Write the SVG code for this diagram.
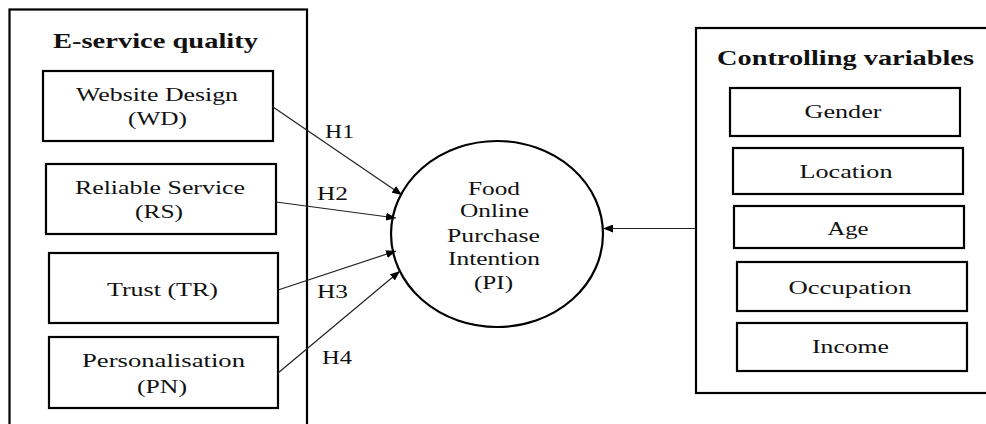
<svg xmlns="http://www.w3.org/2000/svg" width="986" height="424" viewBox="0 0 986 424">
<defs>
<marker id="arr" viewBox="0 0 10 8" refX="10" refY="4" markerWidth="10" markerHeight="8" markerUnits="userSpaceOnUse" orient="auto">
<path d="M0,0 L10,4 L0,8 Z" fill="#000"/>
</marker>
</defs>
<style>
.outer{fill:none;stroke:#000;stroke-width:2.2}
.box{fill:#fff;stroke:#000;stroke-width:2.2}
.t{font-family:"Liberation Serif","Times New Roman",serif;font-size:18px;fill:#111;text-anchor:middle}
.title{font-family:"Liberation Serif","Times New Roman",serif;font-size:22px;font-weight:bold;fill:#111;text-anchor:middle}
.h{font-family:"Liberation Serif","Times New Roman",serif;font-size:18px;fill:#111}
.c{fill:none;stroke:#222;stroke-width:1.2}
</style>
<rect width="986" height="424" fill="#fff"/>

<g id="eservice">
<rect class="outer" x="9.5" y="9.5" width="297.5" height="430"/>
<text class="title" x="155.5" y="48" textLength="205" lengthAdjust="spacingAndGlyphs">E-service quality</text>
</g>

<g id="wd">
<rect class="box" x="43" y="71" width="230" height="70"/>
<text class="t" x="157" y="101" textLength="162" lengthAdjust="spacingAndGlyphs">Website Design</text>
<text class="t" x="157.5" y="125" textLength="59" lengthAdjust="spacingAndGlyphs">(WD)</text>
</g>

<g id="rs">
<rect class="box" x="46" y="164" width="230" height="70"/>
<text class="t" x="160" y="194" textLength="170" lengthAdjust="spacingAndGlyphs">Reliable Service</text>
<text class="t" x="159" y="218" textLength="48" lengthAdjust="spacingAndGlyphs">(RS)</text>
</g>

<g id="tr">
<rect class="box" x="49" y="253" width="229" height="70"/>
<text class="t" x="162.5" y="296" textLength="111" lengthAdjust="spacingAndGlyphs">Trust (TR)</text>
</g>

<g id="pn">
<rect class="box" x="49" y="337" width="229" height="71"/>
<text class="t" x="163.5" y="367" textLength="163" lengthAdjust="spacingAndGlyphs">Personalisation</text>
<text class="t" x="162" y="393" textLength="50" lengthAdjust="spacingAndGlyphs">(PN)</text>
</g>

<g id="pi">
<ellipse cx="497" cy="234" rx="106" ry="93" fill="#fff" stroke="#000" stroke-width="2.2"/>
<text class="t" x="494" y="195" textLength="52" lengthAdjust="spacingAndGlyphs">Food</text>
<text class="t" x="494.5" y="217" textLength="69" lengthAdjust="spacingAndGlyphs">Online</text>
<text class="t" x="493.5" y="242" textLength="93" lengthAdjust="spacingAndGlyphs">Purchase</text>
<text class="t" x="494" y="265" textLength="92" lengthAdjust="spacingAndGlyphs">Intention</text>
<text class="t" x="493.5" y="289" textLength="39" lengthAdjust="spacingAndGlyphs">(PI)</text>
</g>

<g id="controlling">
<rect class="outer" x="696" y="28" width="300" height="365"/>
<text class="title" x="845.5" y="65" textLength="257" lengthAdjust="spacingAndGlyphs">Controlling variables</text>
</g>

<g id="gender">
<rect class="box" x="730" y="88" width="230" height="48"/>
<text class="t" x="843" y="118" textLength="77" lengthAdjust="spacingAndGlyphs">Gender</text>
</g>
<g id="location">
<rect class="box" x="733" y="148" width="230" height="46"/>
<text class="t" x="846" y="178" textLength="93" lengthAdjust="spacingAndGlyphs">Location</text>
</g>
<g id="age">
<rect class="box" x="734" y="206" width="230" height="42"/>
<text class="t" x="848" y="235" textLength="41" lengthAdjust="spacingAndGlyphs">Age</text>
</g>
<g id="occupation">
<rect class="box" x="737" y="262" width="230" height="49"/>
<text class="t" x="850" y="294" textLength="123" lengthAdjust="spacingAndGlyphs">Occupation</text>
</g>
<g id="income">
<rect class="box" x="737" y="323" width="230" height="48"/>
<text class="t" x="850.5" y="353" textLength="77" lengthAdjust="spacingAndGlyphs">Income</text>
</g>

<g id="connectors">
<line class="c" x1="273" y1="107" x2="402" y2="195" marker-end="url(#arr)"/>
<line class="c" x1="276" y1="202" x2="396" y2="218" marker-end="url(#arr)"/>
<line class="c" x1="278" y1="290" x2="396" y2="251" marker-end="url(#arr)"/>
<line class="c" x1="278" y1="373" x2="400" y2="271" marker-end="url(#arr)"/>
<line class="c" x1="696" y1="228.5" x2="603" y2="228.5" marker-end="url(#arr)"/>
<text class="h" x="325" y="138" textLength="29" lengthAdjust="spacingAndGlyphs">H1</text>
<text class="h" x="317" y="200" textLength="31" lengthAdjust="spacingAndGlyphs">H2</text>
<text class="h" x="317" y="298" textLength="31" lengthAdjust="spacingAndGlyphs">H3</text>
<text class="h" x="322" y="364" textLength="30" lengthAdjust="spacingAndGlyphs">H4</text>
</g>
</svg>
